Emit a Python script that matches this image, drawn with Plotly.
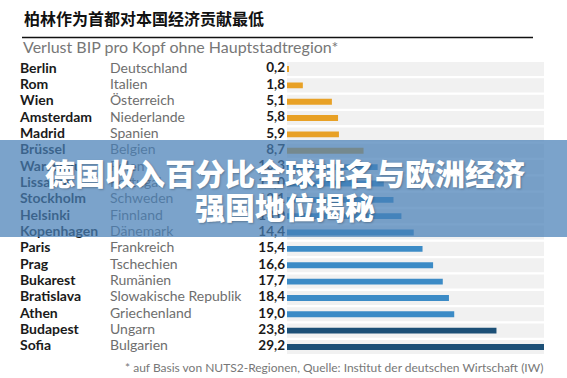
import plotly.graph_objects as go

cities = ["Berlin", "Rom", "Wien", "Amsterdam", "Madrid", "Brüssel", "Warschau", "Lissabon",
          "Stockholm", "Helsinki", "Kopenhagen", "Paris", "Prag", "Bukarest", "Bratislava",
          "Athen", "Budapest", "Sofia"]
countries = ["Deutschland", "Italien", "Österreich", "Niederlande", "Spanien", "Belgien", "Polen",
             "Portugal", "Schweden", "Finnland", "Dänemark", "Frankreich", "Tschechien", "Rumänien",
             "Slowakische Republik", "Griechenland", "Ungarn", "Bulgarien"]
values = [0.2, 1.8, 5.1, 5.8, 5.9, 8.7, 10.3, 11.0, 12.1, 13.0, 14.4, 15.4, 16.6, 17.7, 18.4,
          19.0, 23.8, 29.2]
groups = ["low"] * 6 + ["mid"] * 10 + ["high"] * 2
group_colors = {"low": "#E8A126", "mid": "#3C8BC6", "high": "#1C4F76"}

title = "柏林作为首都对本国经济贡献最低"
subtitle = "Verlust BIP pro Kopf ohne Hauptstadtregion*"
footnote = "* auf Basis von NUTS2-Regionen, Quelle: Institut der deutschen Wirtschaft (IW)"
overlay_lines = ["德国收入百分比全球排名与欧洲经济", "强国地位揭秘"]

W, H = 567, 378
vmax = max(values)
n = len(cities)
FONT = "Lato, 'Open Sans', sans-serif"
SHADOW = "1px 1px 2px rgba(0,0,0,0.25)"

fig = go.Figure()
# background tracks
fig.add_trace(go.Bar(x=[vmax] * n, y=cities, orientation="h",
                     marker=dict(color="#F1F1F1", line=dict(width=0)), width=0.86,
                     hoverinfo="skip", showlegend=False))
# data bars
fig.add_trace(go.Bar(x=values, y=cities, orientation="h",
                     marker=dict(color=[group_colors[g] for g in groups], line=dict(width=0)),
                     width=0.36, showlegend=False))
# label columns (on a full-width helper x axis)
fig.add_trace(go.Scatter(x=[20] * n, y=cities, text=cities, mode="text",
                         textposition="middle right", xaxis="x2", yaxis="y",
                         textfont=dict(family=FONT, size=14, color="#1a1a1a", weight="bold"),
                         showlegend=False, hoverinfo="skip"))
fig.add_trace(go.Scatter(x=[110] * n, y=cities, text=countries, mode="text",
                         textposition="middle right", xaxis="x2", yaxis="y",
                         textfont=dict(family=FONT, size=14, color="#6e6e6e"),
                         showlegend=False, hoverinfo="skip"))
fig.add_trace(go.Scatter(x=[285] * n, y=cities,
                         text=[f"{v:.1f}".replace(".", ",") for v in values], mode="text",
                         textposition="middle left", xaxis="x2", yaxis="y",
                         textfont=dict(family=FONT, size=13.5, color="#1a1a1a", weight="bold"),
                         showlegend=False, hoverinfo="skip"))

row_h = 16.35
top = 69 - row_h / 2
bottom = 347 + row_h / 2

fig.update_layout(
    width=W, height=H, margin=dict(l=0, r=0, t=0, b=0),
    paper_bgcolor="white", plot_bgcolor="rgba(0,0,0,0)", barmode="overlay",
    xaxis=dict(domain=[287 / W, 544 / W], range=[0, vmax], visible=False, fixedrange=True),
    xaxis2=dict(domain=[0, 1], range=[0, W], anchor="y", visible=False),
    yaxis=dict(domain=[1 - bottom / H, 1 - top / H], categoryorder="array",
               categoryarray=cities, range=[n - 0.5, -0.5], visible=False),
    shapes=[
        dict(type="line", xref="paper", yref="paper", x0=22 / W, x1=533 / W,
             y0=1 - 37.5 / H, y1=1 - 37.5 / H, line=dict(color="#111", width=1.5)),
        dict(type="rect", xref="paper", yref="paper", x0=0, x1=1,
             y0=1 - 237 / H, y1=1 - 140 / H, fillcolor="rgba(72,127,183,0.72)",
             line=dict(width=0), layer="above"),
    ],
    annotations=[
        dict(text=f"<b>{title}</b>", xref="paper", yref="paper", x=22 / W, y=1 - 18 / H,
             xanchor="left", yanchor="middle", showarrow=False,
             font=dict(family="Noto Sans CJK SC", size=16, color="#111")),
        dict(text=subtitle, xref="paper", yref="paper", x=21 / W, y=1 - 47 / H,
             xanchor="left", yanchor="middle", showarrow=False,
             font=dict(family=FONT, size=16, color="#777")),
        dict(text=footnote, xref="paper", yref="paper", x=545 / W, y=1 - 367 / H,
             xanchor="right", yanchor="middle", showarrow=False,
             font=dict(family=FONT, size=12, color="#777")),
        dict(text=overlay_lines[0], xref="paper", yref="paper", x=285 / W,
             y=1 - 172 / H, xanchor="center", yanchor="middle", showarrow=False,
             font=dict(family="Noto Sans CJK SC", size=30, color="white", weight=900,
                       shadow=SHADOW)),
        dict(text=overlay_lines[1], xref="paper", yref="paper", x=285 / W,
             y=1 - 206 / H, xanchor="center", yanchor="middle", showarrow=False,
             font=dict(family="Noto Sans CJK SC", size=30, color="white", weight=900,
                       shadow=SHADOW)),
    ],
)

fig.write_html("out.html", config={"displayModeBar": False},
               post_script="document.body.style.margin='0';document.body.style.overflow='hidden';")
